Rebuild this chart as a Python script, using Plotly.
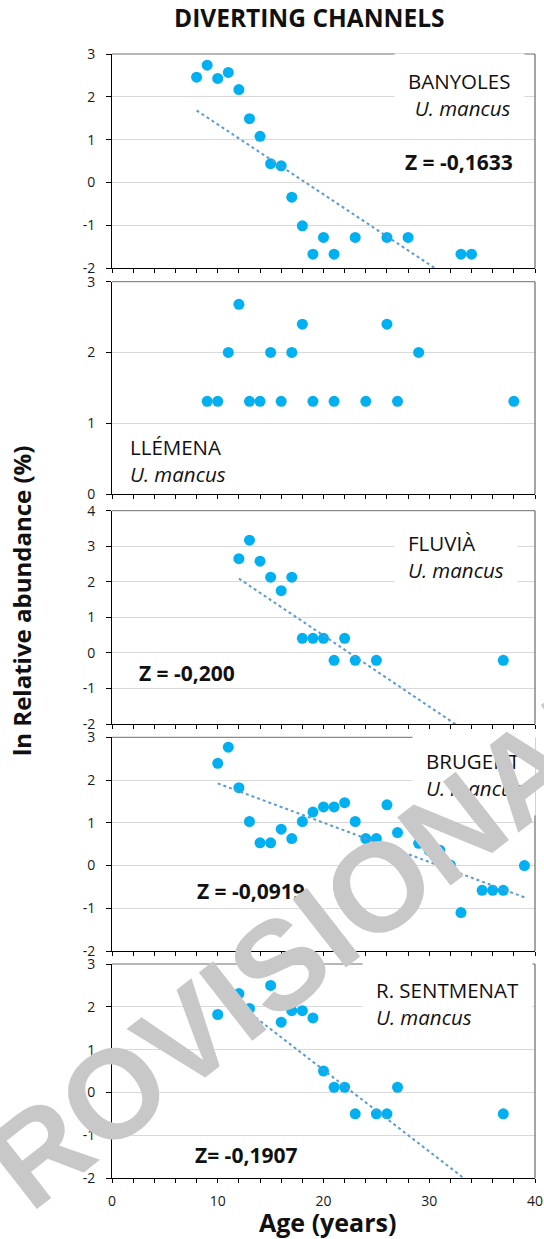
import plotly.graph_objects as go

# ---- data: age (years) vs ln relative abundance (%) ----
banyoles_age = [8, 9, 10, 11, 12, 13, 14, 15, 16, 17, 18, 19, 20, 21, 23, 26, 28, 33, 34]
banyoles_ln = [2.46, 2.74, 2.43, 2.57, 2.17, 1.49, 1.08, 0.44, 0.39, -0.34, -1.01, -1.67,
               -1.28, -1.67, -1.28, -1.28, -1.28, -1.67, -1.67]

llemena_age = [9, 10, 11, 12, 13, 14, 15, 16, 17, 18, 19, 21, 24, 26, 27, 29, 38]
llemena_ln = [1.31, 1.31, 2.0, 2.68, 1.31, 1.31, 2.0, 1.31, 2.0, 2.40, 1.31, 1.31, 1.31,
              2.40, 1.31, 2.0, 1.31]

fluvia_age = [12, 13, 14, 15, 16, 17, 18, 19, 20, 21, 22, 23, 25, 37]
fluvia_ln = [2.65, 3.17, 2.58, 2.13, 1.75, 2.13, 0.41, 0.41, 0.41, -0.21, 0.41, -0.21,
             -0.21, -0.21]

brugent_age = [10, 11, 12, 13, 14, 15, 16, 17, 18, 19, 20, 21, 22, 23, 24, 25, 26, 27,
               28, 29, 30, 31, 32, 33, 35, 36, 37, 39]
brugent_ln = [2.39, 2.77, 1.82, 1.03, 0.53, 0.53, 0.85, 0.63, 1.03, 1.25, 1.37, 1.37,
              1.47, 1.03, 0.63, 0.63, 1.42, 0.77, 0.0, 0.52, 0.35, 0.36, 0.01, -1.10,
              -0.58, -0.58, -0.58, 0.0]

sentmenat_age = [10, 11, 12, 13, 15, 16, 17, 18, 19, 20, 21, 22, 23, 25, 26, 27, 37]
sentmenat_ln = [1.82, 2.25, 2.31, 1.96, 2.50, 1.64, 1.91, 1.91, 1.74, 0.50, 0.12, 0.12,
                -0.50, -0.50, -0.50, 0.12, -0.50]

# mortality slope Z and intercept of the linear fit (None = no fit drawn)
banyoles_fit = (-0.1633, 2.99)
fluvia_fit = (-0.200, 4.49)
brugent_fit = (-0.0919, 2.84)
sentmenat_fit = (-0.1907, 4.34)

site_names = ["BANYOLES", "LLÉMENA", "FLUVIÀ", "BRUGENT", "R. SENTMENAT"]
z_labels = ["Z = -0,1633", None, "Z = -0,200", "Z = -0,0919", "Z= -0,1907"]
y_ranges = [(-2, 3), (0, 3), (-2, 4), (-2, 3), (-2, 3)]
x_tick_labels = ["0", "10", "20", "30", "40"]

# ---- layout geometry ----
W, H = 544, 1239
ML, MR, MT, MB = 112, 9, 54, 61
PW, PH = W - ML - MR, H - MT - MB
panel_px = [(54, 268.3), (281.7, 494), (510.7, 724), (737.3, 951), (964, 1178)]
X_RANGE = (0, 40)


def py2paper(py):
    return (H - MB - py) / PH


def px2x(px):
    return (px - ML) / PW * (X_RANGE[1] - X_RANGE[0])


def py2y(py, i):
    top, bot = panel_px[i]
    lo, hi = y_ranges[i]
    return hi - (py - top) / (bot - top) * (hi - lo)


panels = [
    (banyoles_age, banyoles_ln, banyoles_fit),
    (llemena_age, llemena_ln, None),
    (fluvia_age, fluvia_ln, fluvia_fit),
    (brugent_age, brugent_ln, brugent_fit),
    (sentmenat_age, sentmenat_ln, sentmenat_fit),
]

MARKER = "#00B0F0"
TREND = "#5B9BD5"
FONT = "Open Sans"

fig = go.Figure()
layout = dict(
    width=W, height=H, margin=dict(l=ML, r=MR, t=MT, b=MB, autoexpand=False),
    paper_bgcolor="white", plot_bgcolor="white", showlegend=False,
    font=dict(family=FONT, color="#1a1a1a"),
)
shapes = []
annotations = []

for i, (ages, vals, fit) in enumerate(panels):
    n = i + 1
    xa = "x" if n == 1 else f"x{n}"
    ya = "y" if n == 1 else f"y{n}"
    fig.add_trace(go.Scatter(
        x=ages, y=vals, mode="markers", xaxis=xa, yaxis=ya,
        marker=dict(color=MARKER, size=11, line=dict(width=0)),
        cliponaxis=True,
    ))
    if fit is not None:
        z, b = fit
        x0, x1 = min(ages), max(ages)
        fig.add_trace(go.Scatter(
            x=[x0, x1], y=[b + z * x0, b + z * x1], mode="lines",
            xaxis=xa, yaxis=ya, line=dict(color=TREND, width=2, dash="dot"),
        ))

    top, bot = panel_px[i]
    lo, hi = y_ranges[i]
    last = (i == len(panels) - 1)
    layout["xaxis" if n == 1 else f"xaxis{n}"] = dict(
        domain=[0, 1], anchor=ya, range=list(X_RANGE), automargin=False,
        showgrid=False, zeroline=False, showline=True, linecolor="black", linewidth=1,
        ticks="outside", ticklen=4, tickcolor="black", tickwidth=1,
        tickvals=[0, 10, 20, 30, 40], ticktext=x_tick_labels,
        showticklabels=last, ticklabelstandoff=6,
        tickfont=dict(size=14, family=FONT, color="#1a1a1a"),
        minor=dict(dtick=2, ticks="outside", ticklen=4, tickcolor="black", showgrid=False),
    )
    yvals = list(range(lo, hi + 1))
    layout["yaxis" if n == 1 else f"yaxis{n}"] = dict(
        domain=[py2paper(bot), py2paper(top)], anchor=xa, range=[lo, hi],
        automargin=False,
        tickvals=yvals, ticktext=[str(v) for v in yvals],
        showgrid=True, gridcolor="#d9d9d9", gridwidth=1, zeroline=False,
        showline=True, linecolor="black", linewidth=1,
        ticks="outside", ticklen=5, tickcolor="black", ticklabelstandoff=8,
        tickfont=dict(size=14, family=FONT, color="#1a1a1a"),
    )
    # plot-area frame (top and right edges)
    shapes.append(dict(type="line", xref=f"{xa} domain", yref=f"{ya} domain",
                       x0=0, x1=1, y0=1, y1=1, line=dict(color="#6f6f6f", width=1)))
    shapes.append(dict(type="line", xref=f"{xa} domain", yref=f"{ya} domain",
                       x0=1, x1=1, y0=0, y1=1, line=dict(color="#4d4d4d", width=1)))

# ---- site labels ----
label_specs = [
    # (x px, anchor, centre y px, align, white box)
    (525, "right", 94.9, "right", True),
    (129.3, "left", 460, "left", False),
    (394, "left", 556.7, "left", True),
    (412, "left", 774.2, "left", True),
    (362, "left", 1003.7, "left", True),
]
for i, (xp, anc, yp, al, box) in enumerate(label_specs):
    n = i + 1
    xa = "x" if n == 1 else f"x{n}"
    ya = "y" if n == 1 else f"y{n}"
    annotations.append(dict(
        text=f"{site_names[i]}<br><i>U. mancus</i>", xref=xa, yref=ya,
        x=px2x(xp), y=py2y(yp, i), xanchor=anc, yanchor="middle", align=al,
        showarrow=False, font=dict(size=20.5, family=FONT, color="#111"),
        bgcolor="white" if box else None, borderpad=13 if box else 0,
    ))

# ---- Z values ----
z_pos = [(515, "right", 161.7), None, (136.7, "left", 673.3), (195, "left", 890.7),
         (193.3, "left", 1155)]
for i, pos in enumerate(z_pos):
    if pos is None:
        continue
    n = i + 1
    xa = "x" if n == 1 else f"x{n}"
    ya = "y" if n == 1 else f"y{n}"
    xp, anc, yp = pos
    annotations.append(dict(
        text=f"<b>{z_labels[i]}</b>", xref=xa, yref=ya, x=px2x(xp), y=py2y(yp, i),
        xanchor=anc, yanchor="middle", showarrow=False,
        font=dict(size=21, family=FONT, color="#111"),
    ))

# ---- titles ----
annotations.append(dict(
    text="<b>DIVERTING CHANNELS</b>", xref="paper", yref="paper",
    x=(309 - ML) / PW, y=py2paper(17), xanchor="center", yanchor="middle",
    showarrow=False, font=dict(size=24.5, family=FONT, color="#111"),
))
annotations.append(dict(
    text="<b>ln Relative abundance (%)</b>", xref="paper", yref="paper",
    x=(21 - ML) / PW, y=py2paper(601), xanchor="center", yanchor="middle",
    textangle=-90, showarrow=False, font=dict(size=24, family=FONT, color="#111"),
))
annotations.append(dict(
    text="<b>Age (years)</b>", xref="paper", yref="paper",
    x=(327 - ML) / PW, y=py2paper(1222), xanchor="center", yanchor="middle",
    showarrow=False, font=dict(size=25, family=FONT, color="#111"),
))

# ---- watermark ----
annotations.append(dict(
    text="<b>PROVISIONAL</b>", xref="paper", yref="paper",
    x=(279 - ML) / PW, y=py2paper(964), xanchor="center", yanchor="middle",
    textangle=-38, showarrow=False,
    font=dict(size=126, family="Liberation Sans", color="rgb(200,200,200)"),
))

layout["shapes"] = shapes
layout["annotations"] = annotations
fig.update_layout(**layout)
fig.write_html("out.html")
